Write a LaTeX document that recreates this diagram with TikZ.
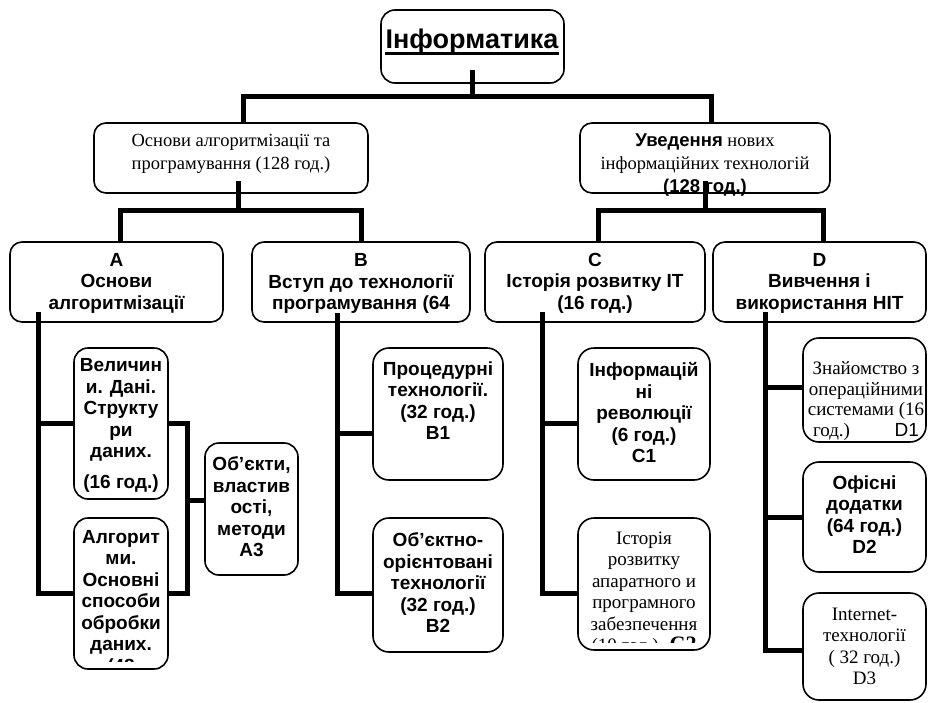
\documentclass[tikz,border=0pt]{standalone}
\usepackage{fontspec}
\setmainfont{Liberation Serif}
\newfontfamily\arial{Liberation Sans}
\begin{document}
\begin{tikzpicture}[x=1pt,y=-1pt,
  bx/.style={draw, line width=1.6pt, rounded corners=12pt, fill=white, inner sep=0pt},
  ibx/.style={bx, rounded corners=16pt},
  conn/.style={line width=5pt},
  sb/.style={font=\arial\bfseries\fontsize{19}{21.5}\selectfont, align=center, inner sep=0pt},
  sr/.style={font=\fontsize{19}{21.5}\selectfont, align=center, inner sep=0pt}]
\useasboundingbox (0,0) rectangle (929,702);

% top
\node[bx, rounded corners=14pt, minimum width=183pt, minimum height=73pt] (T) at (472.5,46.5) {};
\node[font=\arial\bfseries\fontsize{27}{30}\selectfont, inner sep=0pt, anchor=base] (Tt) at (472,48.5) {Інформатика};
\draw[line width=3pt] ([yshift=-4.5pt]Tt.base west) -- ([yshift=-4.5pt]Tt.base east);

% level 2
\node[bx, minimum width=274pt, minimum height=70pt] (L) at (231,158) {};
\node[font=\fontsize{18.5}{23}\selectfont, align=center, inner sep=0pt] (Lt) at (231,153.5) {Основи алгоритмізації та\\програмування (128 год.)};
\node[bx, minimum width=250pt, minimum height=70pt] (R) at (705,158) {};
\node[font=\fontsize{18.5}{23}\selectfont, align=center, inner sep=0pt] (Rt) at (705,165) {{\arial\bfseries Уведення} нових\\інформаційних технологій\\{\arial\bfseries (128 год.)}};

% level 3
\node[bx, minimum width=213pt, minimum height=80pt] (A) at (116.5,282) {};
\node[sb] (At) at (116.5,283) {A\\Основи\\алгоритмізації};
\node[bx, minimum width=218pt, minimum height=80pt] (B) at (361,282) {};
\begin{scope}
\clip (B.north west) rectangle ([yshift=7pt]B.south east);
\node[sb] (Bt) at (361,294.5) {B\\Вступ до технології\\програмування (64\\год.)};
\end{scope}
\node[bx, minimum width=220pt, minimum height=80pt] (C) at (595,282) {};
\node[sb] (Ct) at (595,283) {C\\Історія розвитку ІТ\\(16 год.)};
\node[bx, minimum width=213pt, minimum height=80pt] (D) at (819.5,282) {};
\node[sb] (Dt) at (819.5,283) {D\\Вивчення і\\використання НІТ};

% A children
\node[ibx, rounded corners=14pt, minimum width=94pt, minimum height=151pt] (V) at (121,423.5) {};
\node[sb] (Vt) at (121,425.5) {Величин\\и. Дані.\\Структу\\ри\\даних.\\[9pt](16 год.)};
\node[ibx, rounded corners=14pt, minimum width=94pt, minimum height=151pt] (AL) at (121,593.5) {};
\begin{scope}
\clip (AL.north west) rectangle ([yshift=8.5pt]AL.south east);
\node[sb] (ALt) at (121,603) {Алгорит\\ми.\\Основні\\способи\\обробки\\даних.\\(48};
\end{scope}
\node[ibx, rounded corners=14pt, minimum width=93pt, minimum height=132pt] (OB) at (251.5,509) {};
\node[sb] (OBt) at (251.5,507) {Об’єкти,\\властив\\ості,\\методи\\A3};

% B children
\node[ibx, minimum width=130pt, minimum height=132pt] (B1) at (438,414) {};
\node[sb] (B1t) at (438,400.5) {Процедурні\\технології.\\(32 год.)\\B1};
\node[ibx, minimum width=130pt, minimum height=134pt] (B2) at (438,585) {};
\node[sb] (B2t) at (438,583) {Об’єктно-\\орієнтовані\\технології\\(32 год.)\\B2};

% C children
\node[ibx, minimum width=132pt, minimum height=132pt] (C1) at (644,414) {};
\node[sb] (C1t) at (644,413) {Інформацій\\ні\\революції\\(6 год.)\\C1};
\node[ibx, minimum width=132pt, minimum height=132pt] (C2) at (644,584) {};
\begin{scope}
\clip (C2.north west) rectangle ([yshift=8pt]C2.south east);
\node[sr] (C2t) at (644,593.5) {Історія\\розвитку\\апаратного и\\програмного\\забезпечення\\\makebox[105pt]{(10 год.)\hfill\textbf{\fontsize{22}{22}\selectfont C2}}};
\end{scope}

% D children
\node[ibx, minimum width=123pt, minimum height=104pt] (D1) at (864.5,390) {};
\node[font=\fontsize{19}{20.5}\selectfont, align=center, inner sep=0pt] (D1t) at (866,401) {Знайомство з\\операційними\\системами (16\\\makebox[106pt]{год.)\hfill{\arial D1}}};
\node[ibx, minimum width=123pt, minimum height=110pt] (D2) at (864.5,517) {};
\node[sb] (D2t) at (864.5,514.5) {Офісні\\додатки\\(64 год.)\\D2};
\node[ibx, minimum width=123pt, minimum height=107pt] (D3) at (864.5,646.5) {};
\node[sr] (D3t) at (864.5,646.5) {Internet-\\технології\\( 32 год.)\\D3};

% connectors
\coordinate (tb) at (0,96);
\coordinate (lb) at (0,210);
\draw[conn] ([yshift=14pt]T.south) -- (T.south |- tb);
\draw[conn] ([xshift=12pt]L.north) -- ([xshift=12pt]L.north |- tb) -- ([xshift=6pt]R.north |- tb) -- ([xshift=6pt]R.north);
\draw[conn] ([xshift=7pt,yshift=13pt]L.south) -- ([xshift=7pt]L.south |- lb);
\draw[conn] ([xshift=4pt]A.north) -- ([xshift=4pt]A.north |- lb) -- (B.north |- lb) -- (B.north);
\draw[conn] ([yshift=13pt]R.south) -- (R.south |- lb);
\draw[conn] ([xshift=3pt]C.north) -- ([xshift=3pt]C.north |- lb) -- ([xshift=3.5pt]D.north |- lb) -- ([xshift=3.5pt]D.north);

\coordinate (a0) at (38,312);
\draw[conn] (a0) |- (AL.west);
\draw[conn] (V.west) -- (V.west -| a0);
\draw[conn] (V.east) -- ++(19,0) |- (AL.east);
\draw[conn] ([yshift=9pt]OB.west) -- ++(-18,0);

\coordinate (b0) at (337,313);
\draw[conn] (b0) |- ([yshift=-8pt]B2.west);
\draw[conn] ([yshift=-19pt]B1.west) -- ([yshift=-19pt]B1.west -| b0);

\coordinate (c0) at (542,312);
\draw[conn] (c0) |- ([yshift=-9pt]C2.west);
\draw[conn] ([yshift=-9pt]C1.west) -- ([yshift=-9pt]C1.west -| c0);

\coordinate (d0) at (765,312);
\draw[conn] (d0) |- ([yshift=-3.5pt]D3.west);
\draw[conn] ([yshift=3pt]D1.west) -- ([yshift=3pt]D1.west -| d0);
\draw[conn] (D2.west) -- (D2.west -| d0);
\end{tikzpicture}
\end{document}
